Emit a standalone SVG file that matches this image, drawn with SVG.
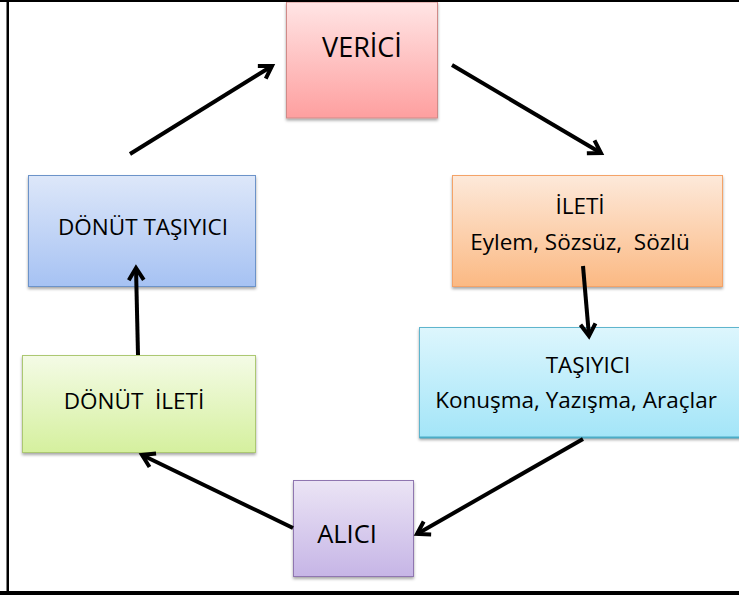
<svg xmlns="http://www.w3.org/2000/svg" width="739" height="595" viewBox="0 0 739 595">
  <style>
    .lbl { font-family: "Open Sans", "Noto Sans", "DejaVu Sans", sans-serif; font-size: 22.5px; fill: #000; text-anchor: middle; white-space: pre; }
    .big { font-size: 27px; }
    .box { stroke-width: 1; filter: url(#sh); }
    .conn { stroke: #000; stroke-width: 4; fill: none; marker-end: url(#ah); }
  </style>
  <defs>
    <filter id="sh" x="-10%" y="-10%" width="120%" height="130%">
      <feDropShadow dx="0" dy="2" stdDeviation="1.5" flood-color="#000" flood-opacity="0.35"/>
    </filter>
    <marker id="ah" markerUnits="userSpaceOnUse" viewBox="-16 -10 20 20" refX="0" refY="0" markerWidth="20" markerHeight="20" orient="auto">
      <path d="M-12,-7.5 L0,0 L-12,7.5" fill="none" stroke="#000" stroke-width="4" stroke-linejoin="miter"/>
    </marker>
    <linearGradient id="gRed" x1="0" y1="0" x2="0" y2="1"><stop offset="0" stop-color="#ffe5e5"/><stop offset="1" stop-color="#fe9f9f"/></linearGradient>
    <linearGradient id="gOrange" x1="0" y1="0" x2="0" y2="1"><stop offset="0" stop-color="#fde9da"/><stop offset="1" stop-color="#fbb983"/></linearGradient>
    <linearGradient id="gCyan" x1="0" y1="0" x2="0" y2="1"><stop offset="0" stop-color="#ddf6fd"/><stop offset="1" stop-color="#a3e5f8"/></linearGradient>
    <linearGradient id="gBlue" x1="0" y1="0" x2="0" y2="1"><stop offset="0" stop-color="#dde7f9"/><stop offset="1" stop-color="#a6c2f3"/></linearGradient>
    <linearGradient id="gGreen" x1="0" y1="0" x2="0" y2="1"><stop offset="0" stop-color="#f4fbe6"/><stop offset="1" stop-color="#d5f09e"/></linearGradient>
    <linearGradient id="gPurple" x1="0" y1="0" x2="0" y2="1"><stop offset="0" stop-color="#ebe4f5"/><stop offset="1" stop-color="#c6b5e6"/></linearGradient>
  </defs>

  <rect x="0" y="0" width="739" height="595" fill="#fff"/>

  <g id="verici">
    <rect class="box" x="286.5" y="2" width="151" height="116" fill="url(#gRed)" stroke="#d08a88"/>
    <text class="lbl big" x="362" y="57">VERİCİ</text>
  </g>

  <g id="ileti">
    <rect class="box" x="452.5" y="175.5" width="270" height="111" fill="url(#gOrange)" stroke="#f4a367"/>
    <text class="lbl" x="580" y="214">İLETİ</text>
    <text class="lbl" x="580" y="250">Eylem, Sözsüz,  Sözlü</text>
  </g>

  <g id="tasiyici">
    <rect class="box" x="419.5" y="327.5" width="322" height="110" fill="url(#gCyan)" stroke="#5fb5cd"/>
    <line x1="419.5" y1="437.5" x2="739" y2="437.5" stroke="#4bacc6" stroke-width="2"/>
    <text class="lbl" x="588" y="373">TAŞIYICI</text>
    <text class="lbl" x="576" y="408">Konuşma, Yazışma, Araçlar</text>
  </g>

  <g id="donut-tasiyici">
    <rect class="box" x="28.5" y="175.5" width="227" height="111" fill="url(#gBlue)" stroke="#6c93c9"/>
    <text class="lbl" x="143" y="235">DÖNÜT TAŞIYICI</text>
  </g>

  <g id="donut-ileti">
    <rect class="box" x="22.5" y="355.5" width="233" height="97" fill="url(#gGreen)" stroke="#acc872"/>
    <text class="lbl" x="134" y="409">DÖNÜT  İLETİ</text>
  </g>

  <g id="alici">
    <rect class="box" x="293.5" y="480.5" width="120" height="96" fill="url(#gPurple)" stroke="#8f76b0"/>
    <text class="lbl big" x="347" y="543" style="font-size:25.5px">ALICI</text>
  </g>

  <g id="connectors">
    <line class="conn" x1="130" y1="154" x2="272" y2="66"/>
    <line class="conn" x1="452" y1="65" x2="601" y2="153"/>
    <line class="conn" x1="583" y1="266" x2="589" y2="336"/>
    <line class="conn" x1="583" y1="439" x2="417" y2="534"/>
    <line class="conn" x1="293" y1="528" x2="142" y2="455"/>
    <line class="conn" x1="138" y1="355" x2="136" y2="268"/>
  </g>

  <g id="frame">
    <rect x="0" y="0" width="739" height="2" fill="#000"/>
    <rect x="6.5" y="0" width="2.5" height="595" fill="#000"/>
    <rect x="0" y="591" width="739" height="4" fill="#000"/>
  </g>
</svg>
